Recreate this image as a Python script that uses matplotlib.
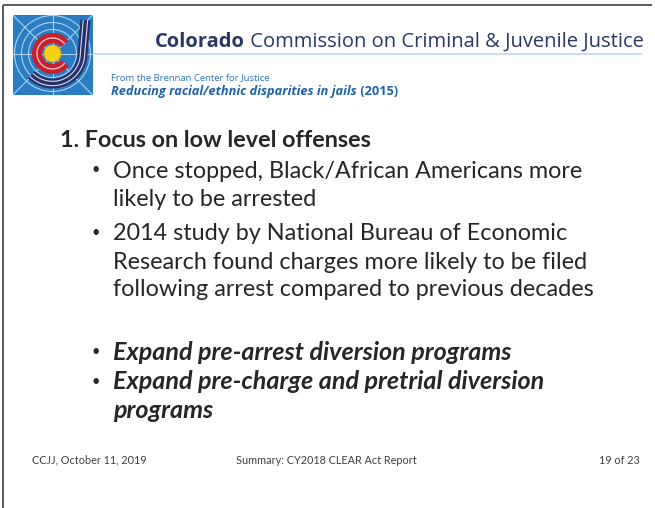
import matplotlib
matplotlib.use("Agg")
import matplotlib.pyplot as plt
import numpy as np
from matplotlib.patches import Rectangle, Circle, Wedge, Arc

# ---- slide content ----
header_bold = "Colorado"
header_rest = " Commission on Criminal & Juvenile Justice"
source_line = "From the Brennan Center for Justice"
source_title = "Reducing racial/ethnic disparities in jails"
source_year = " (2015)"
heading = "1. Focus on low level offenses"
bullets = [
    ["Once stopped, Black/African Americans more", "likely to be arrested"],
    ["2014 study by National Bureau of Economic",
     "Research found charges more likely to be filed",
     "following arrest compared to previous decades"],
]
action_bullets = [
    ["Expand pre-arrest diversion programs"],
    ["Expand pre-charge and pretrial diversion", "programs"],
]
footer_left = "CCJJ, October 11, 2019"
footer_mid = "Summary: CY2018 CLEAR Act Report"
footer_right = "19 of 23"

W, H = 655, 508
fig = plt.figure(figsize=(W / 100, H / 100), dpi=100)
ax = fig.add_axes([0, 0, 1, 1])
ax.set_xlim(0, W)
ax.set_ylim(H, 0)
ax.axis("off")
R = fig.canvas.get_renderer()

BODY = "Lato"
HEAD = "Open Sans"


def width_of(s, size, **kw):
    t = ax.text(0, 0, s, fontsize=size, **kw)
    w = t.get_window_extent(R).width
    t.remove()
    return w


def fit(s, target, **kw):
    return 20 * target / width_of(s, 20, **kw)


# ---- frame ----
ax.plot([3, 652], [4.5, 4.5], color="#5a5a5a", lw=1.4, solid_capstyle="butt")
ax.plot([3.3, 3.3], [4.5, H], color="#5a5a5a", lw=1.4, solid_capstyle="butt")

# ---- logo ----
x0, y0, x1, y1 = 12.7, 15, 92.7, 95
bg = Rectangle((x0, y0), x1 - x0, y1 - y0, facecolor="#2a7dc2", edgecolor="none", zorder=2)
ax.add_patch(bg)
cx, cy = 52.5, 53.5
light = "#a9d2f0"
for rr in (24, 31, 38):
    c = Circle((cx, cy), rr, facecolor="none", edgecolor=light, lw=0.8, zorder=3)
    ax.add_patch(c)
    c.set_clip_path(bg)
for (ax_, ay_), (bx_, by_) in [((x0, y0), (x1, y1)), ((x0, y1), (x1, y0)),
                               ((cx, y0), (cx, y1)), ((x0, cy), (x1, cy))]:
    ln, = ax.plot([ax_, bx_], [ay_, by_], color=light, lw=0.8, zorder=3)
    ln.set_clip_path(bg)
# navy J
a = np.radians(np.linspace(0, 135, 60))
for rr, lw, col in [(30, 7.2, "#28306a"), (27.8, 0.8, "#d7dcef"), (32.2, 0.8, "#d7dcef")]:
    xs = np.concatenate([[cx + rr + 3, cx + rr], cx + rr * np.cos(a)])
    ys = np.concatenate([[y0 + 5, cy], cy + rr * np.sin(a)])
    ln, = ax.plot(xs, ys, color=col, lw=lw, solid_capstyle="butt", zorder=4)
    ln.set_clip_path(bg)
# red C
ax.add_patch(Wedge((cx, cy), 20.5, 38, 322, width=10, facecolor="#c8202f", edgecolor="none", zorder=5))
ax.add_patch(Arc((cx, cy), 31, 31, theta1=38, theta2=322, color="#f1c9cc", lw=0.9, zorder=6))
ax.add_patch(Circle((cx, cy), 8.5, facecolor="#f7d117", edgecolor="#e8a21a", lw=0.6, zorder=6))

# ---- header ----
navy = "#2a3768"
hs = fit(header_bold + header_rest, 484, family=HEAD)
wb = width_of(header_bold, hs, family=HEAD, weight="bold")
ax.text(155, 46.7, header_bold, fontsize=hs, family=HEAD, weight="bold", color=navy, va="baseline")
ax.text(155 + wb, 46.7, header_rest, fontsize=hs, family=HEAD, color=navy, va="baseline")
ax.plot([93, 642], [53.5, 53.5], color="#c3dbef", lw=1.3, solid_capstyle="butt")

ss = fit(source_line, 159, family=HEAD)
ax.text(111, 80, source_line, fontsize=ss, family=HEAD, color="#2f72b8", va="baseline")
ts = fit(source_title + source_year, 284, family=HEAD, weight="bold", style="italic")
wt = width_of(source_title, ts, family=HEAD, weight="bold", style="italic")
ax.text(111, 95, source_title, fontsize=ts, family=HEAD, weight="bold", style="italic",
        color="#1e62ab", va="baseline")
ax.text(111 + wt, 95, source_year, fontsize=ts, family=HEAD, weight="bold",
        color="#1e62ab", va="baseline")

# ---- body ----
txt = "#262626"
hsz = fit(heading, 311, family=BODY, weight="bold")
ax.text(60.5, 147.3, heading, fontsize=hsz, family=BODY, weight="bold", color=txt, va="baseline")

bsz = fit(bullets[1][2], 482, family=BODY)
dot = dict(fontsize=bsz * 0.62, family=BODY, color=txt, va="center", ha="center")
baselines = [[177.7, 206], [240.5, 268.8, 296.5]]
for lines, ys in zip(bullets, baselines):
    ax.text(96, ys[0] - 7.5, "\u2022", **dot)
    for s, yb in zip(lines, ys):
        ax.text(113, yb, s, fontsize=bsz, family=BODY, color=txt, va="baseline")

isz = fit(action_bullets[0][0], 397, family=BODY, weight="bold", style="italic")
baselines = [[360], [389.3, 417.5]]
for lines, ys in zip(action_bullets, baselines):
    ax.text(96, ys[0] - 7.5, "\u2022", **dot)
    for s, yb in zip(lines, ys):
        ax.text(113, yb, s, fontsize=isz, family=BODY, weight="bold", style="italic",
                color=txt, va="baseline")

# ---- footer ----
fsz = fit(footer_mid, 180, family=BODY)
fc = "#404040"
ax.text(32, 463.5, footer_left, fontsize=fsz, family=BODY, color=fc, va="baseline")
ax.text(236, 463.5, footer_mid, fontsize=fsz, family=BODY, color=fc, va="baseline")
ax.text(640, 463.5, footer_right, fontsize=fsz, family=BODY, color=fc, va="baseline", ha="right")

fig.savefig("out.png", dpi=100, facecolor="white")
